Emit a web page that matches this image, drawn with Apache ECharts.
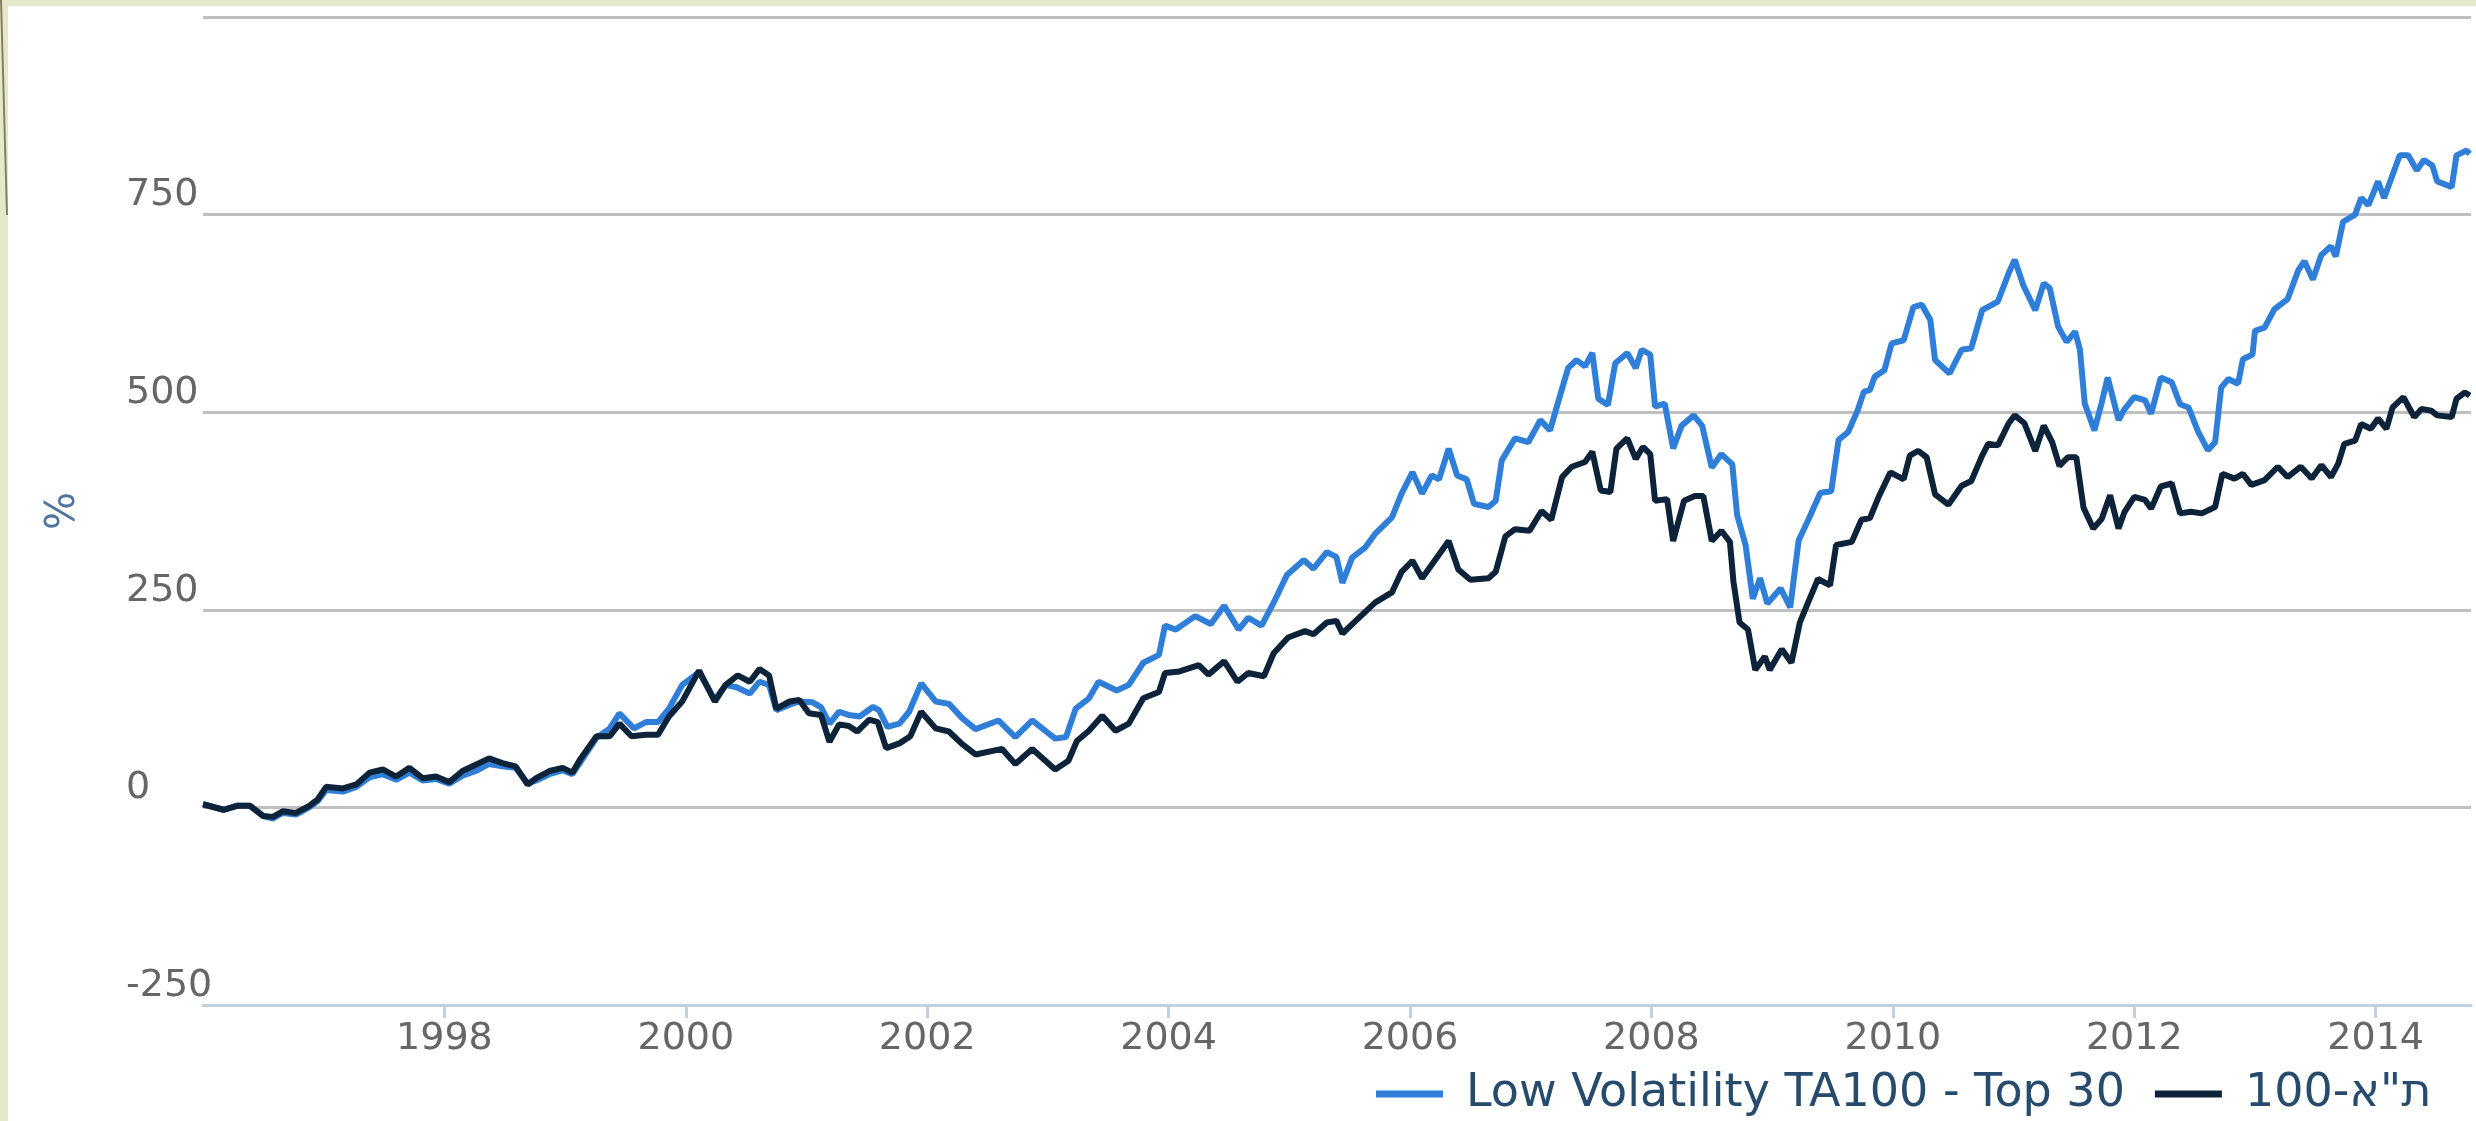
<!DOCTYPE html>
<html>
<head>
<meta charset="utf-8">
<title>Low Volatility TA100</title>
<script src="https://cdn.jsdelivr.net/npm/echarts@6/dist/echarts.min.js"></script>
<style>
  html, body { margin: 0; padding: 0; background: #fff; }
  #chart { width: 2476px; height: 1121px; }
</style>
</head>
<body>
<div id="chart"></div>
<script>
// tick labels
var yearTicks = [1998, 2000, 2002, 2004, 2006, 2008, 2010, 2012, 2014];
var seriesNames = ['Low Volatility TA100 - Top 30', 'ת"א-100'];

// Low Volatility TA100 - Top 30 (decimal year, %)
var lowVolYears = [
  1996.00, 1996.17, 1996.28, 1996.39, 1996.50, 1996.58, 1996.66, 1996.77, 1996.88, 1996.95,
  1997.02, 1997.16, 1997.27, 1997.38, 1997.49, 1997.60, 1997.71, 1997.82, 1997.93, 1998.04,
  1998.15, 1998.26, 1998.37, 1998.48, 1998.59, 1998.69, 1998.76, 1998.87, 1998.98, 1999.06,
  1999.13, 1999.26, 1999.37, 1999.45, 1999.57, 1999.67, 1999.77, 1999.86, 1999.97, 2000.11,
  2000.24, 2000.33, 2000.42, 2000.53, 2000.61, 2000.69, 2000.75, 2000.86, 2000.94, 2001.05,
  2001.12, 2001.19, 2001.27, 2001.35, 2001.44, 2001.55, 2001.60, 2001.67, 2001.77, 2001.85,
  2001.95, 2002.07, 2002.18, 2002.29, 2002.40, 2002.59, 2002.73, 2002.87, 2003.06, 2003.15,
  2003.23, 2003.34, 2003.42, 2003.57, 2003.67, 2003.79, 2003.92, 2003.97, 2004.06, 2004.22,
  2004.35, 2004.46, 2004.58, 2004.66, 2004.77, 2004.87, 2004.98, 2005.12, 2005.20, 2005.31,
  2005.39, 2005.44, 2005.52, 2005.63, 2005.71, 2005.85, 2005.93, 2006.02, 2006.10, 2006.18,
  2006.24, 2006.32, 2006.39, 2006.47, 2006.53, 2006.65, 2006.71, 2006.76, 2006.87, 2006.98,
  2007.08, 2007.16, 2007.22, 2007.31, 2007.38, 2007.45, 2007.51, 2007.56, 2007.64, 2007.70,
  2007.80, 2007.87, 2007.92, 2007.99, 2008.03, 2008.11, 2008.18, 2008.25, 2008.35, 2008.42,
  2008.50, 2008.58, 2008.67, 2008.71, 2008.78, 2008.84, 2008.90, 2008.96, 2009.07, 2009.15,
  2009.22, 2009.30, 2009.40, 2009.49, 2009.55, 2009.63, 2009.71, 2009.76, 2009.81, 2009.85,
  2009.93, 2009.99, 2010.09, 2010.17, 2010.24, 2010.31, 2010.35, 2010.47, 2010.57, 2010.65,
  2010.74, 2010.87, 2010.96, 2011.01, 2011.08, 2011.18, 2011.25, 2011.30, 2011.37, 2011.44,
  2011.51, 2011.55, 2011.59, 2011.67, 2011.73, 2011.78, 2011.87, 2011.92, 2012.00, 2012.09,
  2012.14, 2012.22, 2012.31, 2012.38, 2012.45, 2012.53, 2012.61, 2012.67, 2012.72, 2012.78,
  2012.86, 2012.90, 2012.98, 2013.00, 2013.08, 2013.16, 2013.27, 2013.36, 2013.41, 2013.48,
  2013.55, 2013.63, 2013.67, 2013.73, 2013.83, 2013.88, 2013.94, 2014.02, 2014.07, 2014.13,
  2014.20, 2014.27, 2014.34, 2014.40, 2014.47, 2014.51, 2014.63, 2014.67, 2014.75, 2014.78
];
var lowVolValues = [
  4, -3, 2, 2, -11, -14, -7, -9, 0, 8,
  22, 20, 26, 38, 42, 35, 44, 34, 36, 30,
  40, 46, 55, 52, 50, 30, 34, 42, 47, 42,
  58, 88, 100, 119, 100, 108, 108, 125, 155, 171,
  136, 155, 152, 144, 159, 155, 123, 130, 134, 133,
  127, 106, 121, 117, 115, 127, 123, 102, 106, 121,
  157, 134, 131, 113, 99, 110, 89, 110, 87, 89,
  125, 138, 159, 148, 155, 183, 193, 230, 225, 242,
  232, 255, 225, 240, 230, 259, 294, 313, 302, 323,
  317, 284, 316, 329, 346, 367, 397, 424, 397, 420,
  415, 454, 420, 415, 384, 380, 388, 439, 467, 462,
  490, 477, 509, 556, 566, 558, 575, 517, 509, 562,
  575, 556, 579, 573, 507, 511, 454, 483, 496, 483,
  430, 447, 434, 370, 332, 264, 290, 258, 277, 253,
  338, 364, 398, 400, 465, 475, 503, 526, 528, 545,
  553, 587, 591, 633, 636, 617, 566, 549, 579, 581,
  629, 640, 676, 693, 661, 629, 663, 657, 608, 589,
  602, 579, 511, 477, 512, 544, 490, 504, 519, 515,
  498, 544, 538, 510, 506, 475, 452, 462, 531, 542,
  536, 567, 573, 603, 607, 630, 643, 680, 691, 668,
  699, 710, 697, 741, 750, 771, 762, 792, 771, 796,
  825, 825, 806, 819, 812, 792, 785, 825, 831, 827
];

// ת"א-100 (decimal year, %)
var ta100Years = [
  1996.00, 1996.17, 1996.28, 1996.39, 1996.50, 1996.58, 1996.66, 1996.77, 1996.88, 1996.95,
  1997.02, 1997.16, 1997.27, 1997.38, 1997.49, 1997.60, 1997.71, 1997.82, 1997.93, 1998.04,
  1998.15, 1998.26, 1998.37, 1998.48, 1998.59, 1998.69, 1998.76, 1998.87, 1998.98, 1999.06,
  1999.13, 1999.26, 1999.37, 1999.45, 1999.55, 1999.67, 1999.77, 1999.86, 1999.97, 2000.11,
  2000.24, 2000.33, 2000.43, 2000.53, 2000.61, 2000.69, 2000.75, 2000.86, 2000.94, 2001.02,
  2001.12, 2001.19, 2001.27, 2001.35, 2001.42, 2001.52, 2001.59, 2001.66, 2001.77, 2001.86,
  2001.95, 2002.07, 2002.18, 2002.29, 2002.40, 2002.62, 2002.73, 2002.87, 2003.06, 2003.17,
  2003.24, 2003.34, 2003.45, 2003.56, 2003.67, 2003.79, 2003.92, 2003.97, 2004.09, 2004.25,
  2004.33, 2004.46, 2004.57, 2004.66, 2004.79, 2004.87, 2004.99, 2005.13, 2005.20, 2005.31,
  2005.39, 2005.44, 2005.55, 2005.71, 2005.85, 2005.93, 2006.02, 2006.10, 2006.18, 2006.32,
  2006.40, 2006.50, 2006.65, 2006.71, 2006.79, 2006.87, 2006.99, 2007.09, 2007.17, 2007.26,
  2007.34, 2007.45, 2007.51, 2007.58, 2007.66, 2007.71, 2007.80, 2007.87, 2007.93, 2007.99,
  2008.03, 2008.13, 2008.18, 2008.27, 2008.36, 2008.43, 2008.50, 2008.58, 2008.65, 2008.68,
  2008.73, 2008.80, 2008.86, 2008.94, 2008.98, 2009.08, 2009.16, 2009.23, 2009.30, 2009.38,
  2009.48, 2009.53, 2009.66, 2009.74, 2009.81, 2009.88, 2009.98, 2010.09, 2010.14, 2010.21,
  2010.28, 2010.35, 2010.46, 2010.57, 2010.65, 2010.74, 2010.79, 2010.87, 2010.96, 2011.01,
  2011.09, 2011.18, 2011.25, 2011.32, 2011.38, 2011.45, 2011.52, 2011.58, 2011.66, 2011.73,
  2011.80, 2011.87, 2011.92, 2012.00, 2012.09, 2012.14, 2012.22, 2012.31, 2012.38, 2012.47,
  2012.56, 2012.67, 2012.73, 2012.83, 2012.90, 2012.97, 2013.08, 2013.19, 2013.27, 2013.38,
  2013.47, 2013.55, 2013.63, 2013.69, 2013.74, 2013.83, 2013.88, 2013.96, 2014.02, 2014.09,
  2014.14, 2014.23, 2014.32, 2014.38, 2014.46, 2014.51, 2014.63, 2014.67, 2014.74, 2014.78
];
var ta100Values = [
  4, -3, 2, 2, -11, -12, -5, -7, 2, 10,
  26, 24, 29, 44, 48, 39, 50, 37, 39, 32,
  46, 54, 62, 56, 52, 29, 37, 46, 50, 44,
  62, 90, 90, 106, 90, 92, 92, 115, 134, 173,
  134, 155, 167, 159, 175, 167, 125, 134, 136, 119,
  117, 83, 105, 103, 96, 111, 108, 75, 81, 90,
  121, 100, 96, 80, 67, 74, 55, 74, 48, 59,
  84, 97, 116, 97, 106, 138, 146, 170, 172, 180,
  168, 185, 159, 170, 166, 195, 215, 223, 219, 234,
  236, 220, 236, 259, 272, 298, 312, 290, 307, 337,
  301, 288, 290, 298, 343, 352, 350, 375, 364, 418,
  431, 437, 450, 401, 399, 454, 467, 441, 456, 447,
  388, 390, 337, 388, 394, 394, 337, 350, 336, 285,
  234, 225, 174, 191, 174, 200, 183, 234, 260, 289,
  281, 332, 336, 364, 366, 392, 424, 415, 445, 451,
  443, 396, 383, 407, 413, 445, 460, 458, 486, 496,
  486, 451, 483, 462, 432, 443, 443, 379, 353, 365,
  395, 353, 374, 393, 389, 378, 406, 410, 372, 374,
  372, 380, 422, 416, 422, 408, 414, 431, 418, 431,
  416, 433, 418, 435, 460, 464, 485, 479, 492, 479,
  506, 519, 494, 504, 502, 496, 494, 517, 525, 521
];

function pairs(xs, ys) {
  var out = [];
  for (var i = 0; i < xs.length; i++) out.push([xs[i], ys[i]]);
  return out;
}

var chart = echarts.init(document.getElementById('chart'), null, { renderer: 'canvas' });

var labelFont = 'DejaVu Sans';

chart.setOption({
  animation: false,
  backgroundColor: '#ffffff',
  color: ['#2f7ed8', '#0d233a'],
  // screenshot frame on the top and left edges
  graphic: [
    { type: 'rect', left: 0, top: 0, shape: { width: 2476, height: 6 }, style: { fill: '#e4ebcd' }, silent: true },
    { type: 'rect', left: 0, top: 0, shape: { width: 8, height: 1121 }, style: { fill: '#e2eacb' }, silent: true },
    { type: 'line', shape: { x1: 1, y1: 0, x2: 7, y2: 215 }, style: { stroke: '#8a7f5e', lineWidth: 2 }, silent: true }
  ],
  grid: { left: 203, right: 5, top: 17, bottom: 116, containLabel: false },
  legend: {
    left: 1371,
    top: 1066,
    icon: 'rect',
    itemWidth: 67,
    itemHeight: 7,
    itemGap: 30,
    textStyle: { fontFamily: labelFont, fontSize: 46, color: '#274b6d', padding: [0, 0, 0, 18] },
    data: seriesNames
  },
  xAxis: {
    type: 'value',
    min: 1996,
    max: 2014.79,
    axisLine: { onZero: false, lineStyle: { color: '#c0d0e0', width: 3 } },
    axisTick: { show: true, length: 13, lineStyle: { color: '#c0d0e0', width: 3 }, customValues: yearTicks },
    axisLabel: {
      customValues: yearTicks,
      margin: 15,
      fontFamily: labelFont,
      fontSize: 38,
      color: '#666666',
      formatter: function (v) { return String(Math.round(v)); }
    },
    splitLine: { show: false }
  },
  yAxis: {
    type: 'value',
    min: -250,
    max: 1000,
    interval: 250,
    name: '%',
    nameLocation: 'middle',
    nameRotate: 90,
    nameGap: 119,
    nameTextStyle: { fontFamily: labelFont, fontSize: 40, color: '#4d759e' },
    axisLine: { show: false },
    axisTick: { show: false },
    axisLabel: {
      showMaxLabel: false,
      align: 'left',
      verticalAlign: 'bottom',
      margin: 77,
      fontFamily: labelFont,
      fontSize: 38,
      color: '#666666'
    },
    splitLine: { lineStyle: { color: '#c0c0c0', width: 3 } }
  },
  series: [
    {
      name: seriesNames[0],
      type: 'line',
      showSymbol: false,
      lineStyle: { width: 6, color: '#2f7ed8' },
      itemStyle: { color: '#2f7ed8' },
      data: pairs(lowVolYears, lowVolValues)
    },
    {
      name: seriesNames[1],
      type: 'line',
      showSymbol: false,
      lineStyle: { width: 6, color: '#0d233a' },
      itemStyle: { color: '#0d233a' },
      data: pairs(ta100Years, ta100Values)
    }
  ]
});
</script>
</body>
</html>
